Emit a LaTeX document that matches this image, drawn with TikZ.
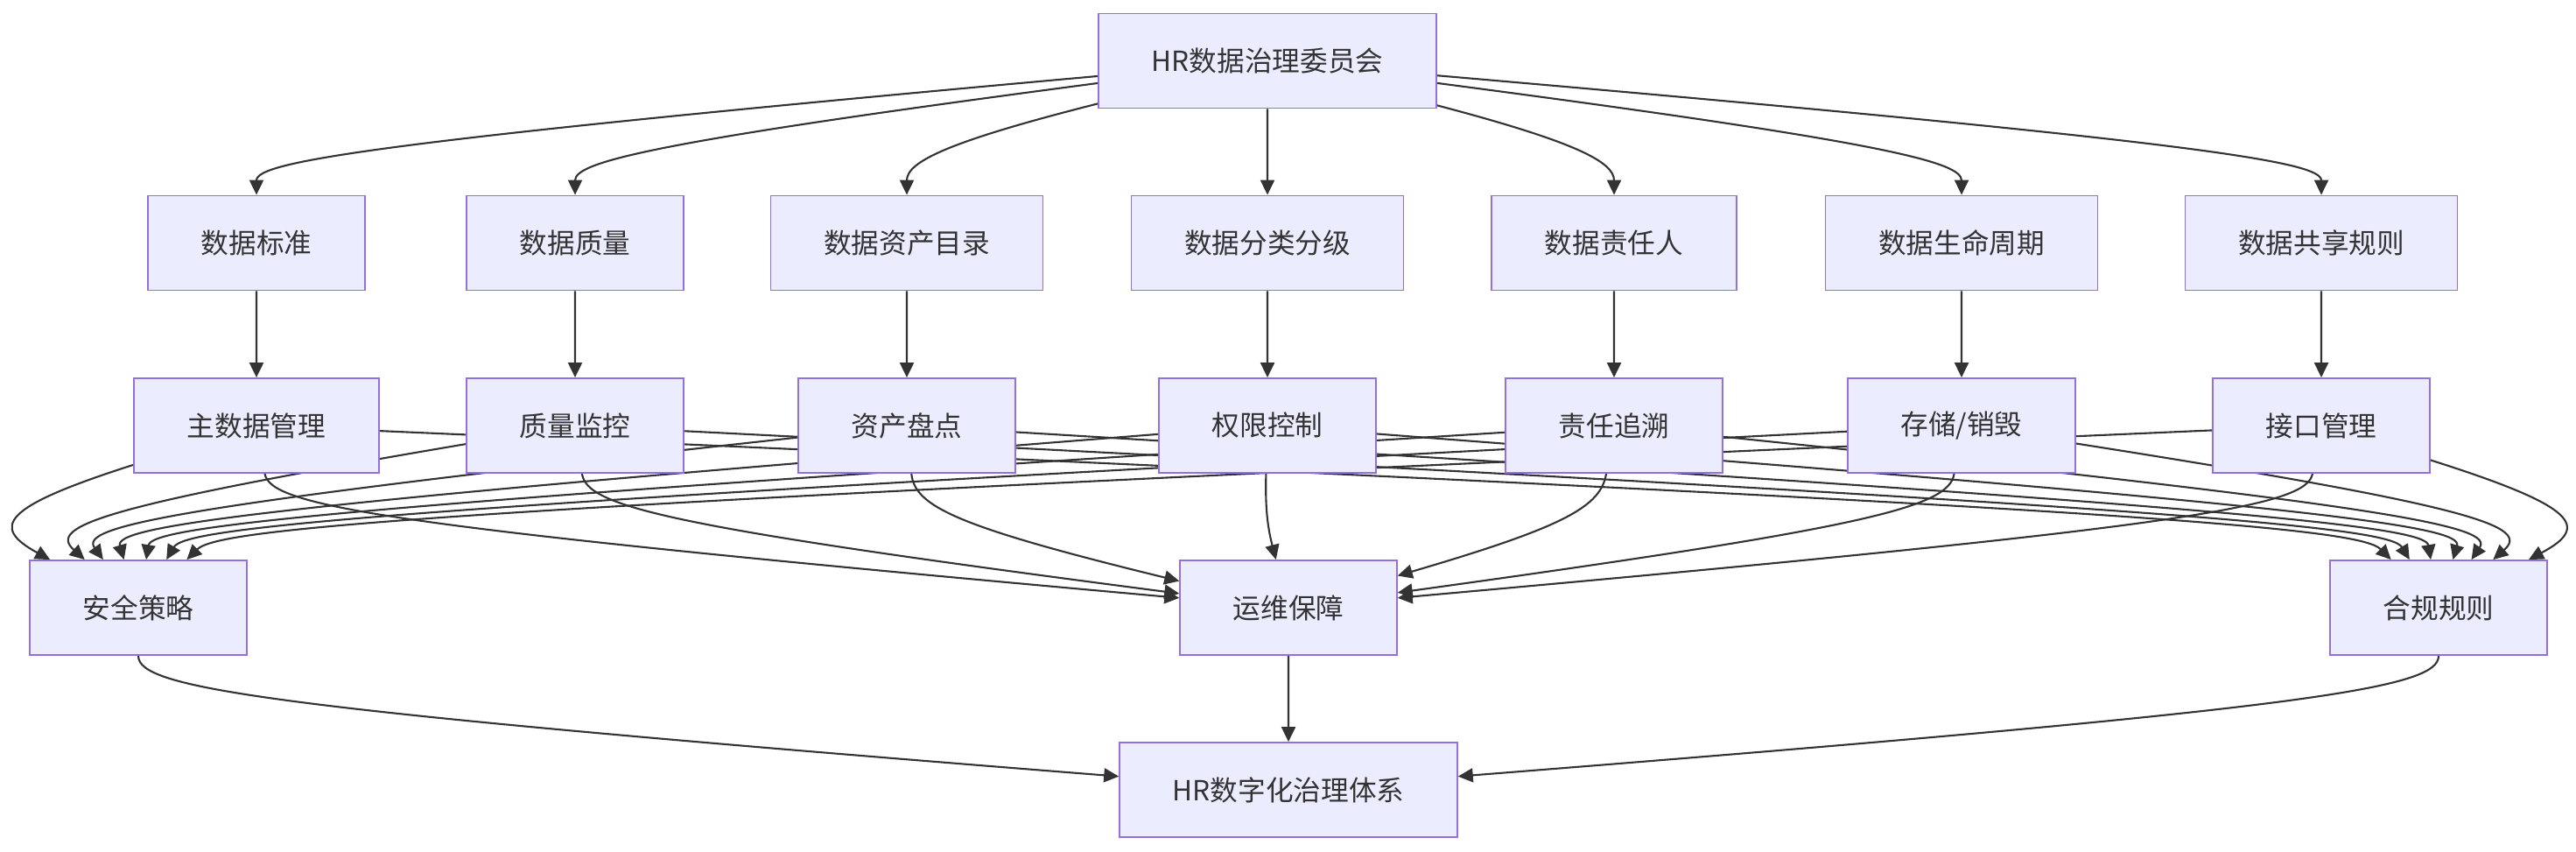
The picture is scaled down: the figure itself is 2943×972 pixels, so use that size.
\documentclass[tikz,border=0pt]{standalone}
\usepackage{fontspec}
\usepackage{tikz}
\usetikzlibrary{arrows.meta, calc, backgrounds}
\newfontfamily\cjk{Noto Sans CJK SC}
\definecolor{riemp}{HTML}{ECECFF}
\definecolor{bordo}{HTML}{9370DB}
\definecolor{linea}{HTML}{333333}

\begin{document}
\begin{tikzpicture}[x=0.01cm, y=-0.01cm, >={Triangle[length=0.17cm, width=0.16cm]},
    box/.style={draw=bordo, fill=riemp, line width=0.5pt, minimum height=1.08cm,
        inner xsep=0.605cm, text=linea, font=\cjk\fontsize{9}{11}\selectfont},
    edge/.style={->, draw=linea, line width=0.6pt}]
    \useasboundingbox (0,0) rectangle (2943,972);

    % Comitato
    \node[box] (top) at (1448,69.5) {HR数据治理委员会};

    % Ambiti dei dati
    \foreach \n/\x/\testo in {d1/293/数据标准, d2/657/数据质量, d3/1036/数据资产目录, d4/1448/数据分类分级,
                              d5/1844/数据责任人, d6/2241/数据生命周期, d7/2652/数据共享规则} {
        \node[box] (\n) at (\x,277.5) {\testo};
    }

    % Strumenti
    \foreach \n/\x/\testo in {m1/293/主数据管理, m2/657/质量监控, m3/1036/资产盘点, m4/1448/权限控制,
                              m5/1844/责任追溯, m6/2241/{存储/销毁}, m7/2652/接口管理} {
        \node[box] (\n) at (\x,486) {\testo};
    }

    % Pilastri
    \node[box] (sec) at (158,694) {安全策略};
    \node[box] (ops) at (1472,694) {运维保障};
    \node[box] (comp) at (2786,694) {合规规则};

    % Sistema
    \node[box] (sys) at (1472,902) {HR数字化治理体系};

    % Frecce (punto medio \mx,\my per ogni arco)
    \begin{scope}[on background layer]
    \foreach \a/\b/\mx/\my in {top/d1/293/173.5, top/d2/657/173.5, top/d3/1036/173.5, top/d4/1448/173.5,
                               top/d5/1844/173.5, top/d6/2241/173.5, top/d7/2652/173.5,
                               d1/m1/293/382, d2/m2/657/382, d3/m3/1036/382, d4/m4/1448/382,
                               d5/m5/1844/382, d6/m6/2241/382, d7/m7/2652/382,
                               m1/sec/-33/590, m2/sec/42/590, m3/sec/82/590, m4/sec/127/590,
                               m5/sec/175/590, m6/sec/219/590, m7/sec/263/590,
                               m1/ops/311/590, m2/ops/672/590, m3/ops/1046/590, m4/ops/1445/590,
                               m5/ops/1827/590, m6/ops/2225/590, m7/ops/2633/590,
                               m1/comp/2683/590, m2/comp/2723/590, m3/comp/2769/590, m4/comp/2817/590,
                               m5/comp/2857/590, m6/comp/2904/590, m7/comp/2981/590,
                               sec/sys/158/798, ops/sys/1472/798, comp/sys/2786/798} {
        \draw[edge] (\a) .. controls ($(\a)!.89!(\mx,\my)$) and ($(\b)!.89!(\mx,\my)$) .. (\b);
    }
    \end{scope}
\end{tikzpicture}
\end{document}
